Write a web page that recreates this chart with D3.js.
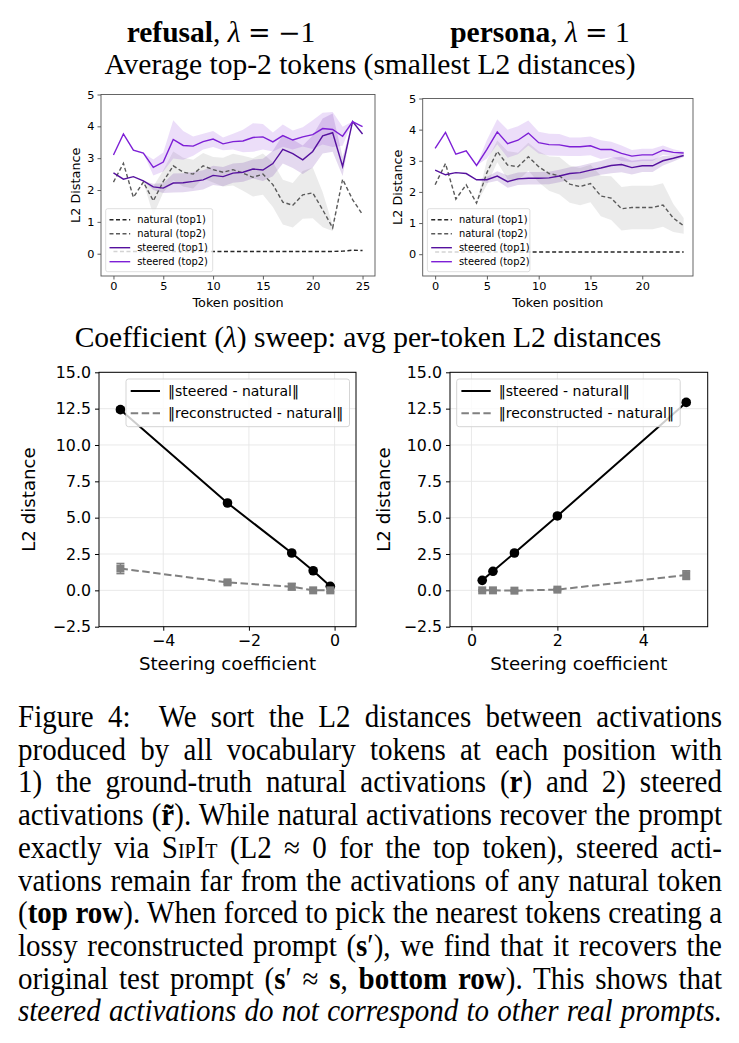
<!DOCTYPE html>
<html>
<head>
<meta charset="utf-8">
<title>Steered vs natural L2 distances</title>
<style>
  body { margin: 0; background: #fff; }
  #wrap { position: relative; width: 739px; height: 1043px; overflow: hidden; background: #fff; }
  #wrap svg { position: absolute; left: 0; top: 0; }
  svg text { font-family: "DejaVu Sans", sans-serif; fill: #000; }
  svg text.serif { font-family: "Liberation Serif", "Times New Roman", serif; }
  #caption { position: absolute; left: 18px; top: 701px; width: 704px;
    font-family: "Liberation Serif", "Times New Roman", serif; font-size: 29px; line-height: 32.7px; color: #000; }
  #caption div { text-align: justify; text-align-last: justify; white-space: nowrap; transform: scaleY(1.06); transform-origin: 0 26px; }
  .sc { font-variant: small-caps; }
</style>
</head>
<body>
<div id="wrap">
  <svg id="chart" width="739" height="1043"></svg>
  <div id="caption">
    <div>Figure 4:&nbsp; We sort the L2 distances between activations</div>
    <div>produced by all vocabulary tokens at each position with</div>
    <div>1) the ground-truth natural activations (<b>r</b>) and 2) steered</div>
    <div>activations (<b>r&#771;</b>). While natural activations recover the prompt</div>
    <div>exactly via <span class="sc">SipIt</span> (L2 &asymp; 0 for the top token), steered acti-</div>
    <div>vations remain far from the activations of any natural token</div>
    <div>(<b>top row</b>). When forced to pick the nearest tokens creating a</div>
    <div>lossy reconstructed prompt (<b>s</b>&prime;), we find that it recovers the</div>
    <div>original test prompt (<b>s</b>&prime; &asymp; <b>s</b>, <b>bottom row</b>). This shows that</div>
    <div><i>steered activations do not correspond to other real prompts.</i></div>
  </div>
</div>
<script src="https://d3js.org/d3.v7.min.js"></script>
<script>
// ---- top row: refusal, lambda = -1 ----
const refusalPos = [0, 1, 2, 3, 4, 5, 6, 7, 8, 9, 10, 11, 12, 13, 14, 15, 16, 17, 18, 19, 20, 21, 22, 23, 24, 25];
const refusalNatTop1 = [0.07, 0.07, 0.07, 0.07, 0.07, 0.07, 0.07, 0.07, 0.07, 0.07, 0.07, 0.07, 0.07, 0.07, 0.07, 0.07, 0.07, 0.07, 0.07, 0.07, 0.07, 0.07, 0.07, 0.08, 0.11, 0.1];
const refusalNatTop2 = [2.25, 2.84, 1.77, 2.25, 1.66, 2.27, 2.76, 2.56, 2.5, 2.76, 2.64, 2.56, 2.64, 2.53, 2.4, 2.5, 2.17, 1.62, 1.52, 1.85, 1.91, 1.38, 0.81, 2.34, 1.7, 1.23];
const refusalNatTop2Sd = [0, 0, 0, 0, 0.45, 0.35, 0.45, 0.45, 0.45, 0.4, 0.4, 0.45, 0.5, 0.55, 0.6, 0.65, 0.7, 0.7, 0.7, 0.75, 0.8, 0.55, 0.1, 0, 0, 0];
const refusalSteerTop1 = [2.54, 2.34, 2.42, 2.29, 2.1, 2.06, 2.22, 2.23, 2.27, 2.32, 2.46, 2.42, 2.53, 2.56, 2.66, 2.63, 2.83, 3.28, 3.14, 2.95, 3.21, 3.7, 3.8, 2.74, 4.15, 3.76];
const refusalSteerTop1Sd = [0, 0, 0, 0, 0.1, 0.15, 0.3, 0.3, 0.3, 0.3, 0.3, 0.3, 0.3, 0.3, 0.3, 0.35, 0.4, 0.45, 0.45, 0.45, 0.5, 0.55, 0.6, 0.3, 0, 0];
const refusalSteerTop2 = [3.1, 3.76, 3.25, 3.16, 2.71, 2.88, 3.59, 3.4, 3.38, 3.52, 3.6, 3.45, 3.52, 3.54, 3.65, 3.67, 3.51, 3.71, 3.57, 3.67, 3.74, 3.93, 3.9, 3.69, 4.15, 3.99];
const refusalSteerTop2Sd = [0, 0, 0, 0, 0.25, 0.3, 0.6, 0.45, 0.3, 0.25, 0.25, 0.2, 0.25, 0.35, 0.45, 0.4, 0.3, 0.35, 0.3, 0.3, 0.45, 0.5, 0.55, 0.3, 0, 0];

// ---- top row: persona, lambda = 1 ----
const personaPos = [0, 1, 2, 3, 4, 5, 6, 7, 8, 9, 10, 11, 12, 13, 14, 15, 16, 17, 18, 19, 20, 21, 22, 23, 24];
const personaNatTop1 = [0.07, 0.07, 0.07, 0.07, 0.07, 0.07, 0.07, 0.07, 0.07, 0.07, 0.07, 0.07, 0.07, 0.07, 0.07, 0.07, 0.07, 0.07, 0.07, 0.07, 0.07, 0.07, 0.07, 0.07, 0.07];
const personaNatTop2 = [2.23, 2.91, 1.77, 2.23, 1.64, 2.62, 3.3, 2.86, 2.81, 3.13, 2.81, 2.59, 2.52, 2.25, 2.17, 2.27, 1.87, 1.8, 1.46, 1.5, 1.5, 1.5, 1.58, 1.16, 0.91];
const personaNatTop2Sd = [0, 0, 0, 0, 0, 0.4, 0.35, 0.45, 0.45, 0.45, 0.5, 0.55, 0.6, 0.6, 0.6, 0.6, 0.65, 0.7, 0.7, 0.7, 0.7, 0.7, 0.7, 0.45, 0.25];
const personaSteerTop1 = [2.7, 2.55, 2.62, 2.59, 2.39, 2.39, 2.51, 2.33, 2.42, 2.44, 2.44, 2.45, 2.51, 2.59, 2.62, 2.7, 2.77, 2.85, 2.88, 2.78, 2.84, 2.84, 3.0, 3.08, 3.17];
const personaSteerTop1Sd = [0, 0, 0, 0, 0, 0.1, 0.15, 0.2, 0.2, 0.2, 0.2, 0.2, 0.2, 0.2, 0.22, 0.22, 0.22, 0.25, 0.25, 0.22, 0.2, 0.2, 0.15, 0.1, 0.05];
const personaSteerTop2 = [3.4, 3.91, 3.21, 3.32, 2.85, 3.37, 3.93, 3.55, 3.66, 3.89, 3.58, 3.52, 3.51, 3.45, 3.45, 3.48, 3.36, 3.36, 3.24, 3.15, 3.19, 3.19, 3.34, 3.27, 3.25];
const personaSteerTop2Sd = [0, 0, 0, 0, 0, 0.3, 0.4, 0.45, 0.45, 0.4, 0.35, 0.35, 0.35, 0.3, 0.3, 0.3, 0.3, 0.25, 0.25, 0.2, 0.2, 0.2, 0.15, 0.1, 0.05];

const topYTicks = [0, 1, 2, 3, 4, 5];
const topLegendLabels = ["natural (top1)", "natural (top2)", "steered (top1)", "steered (top2)"];

// ---- bottom row: coefficient sweep ----
const sweepNegCoef = [-5, -2.5, -1, -0.5, -0.1];
const sweepNegSteered = [12.43, 6.01, 2.57, 1.35, 0.28];
const sweepNegSteeredErr = [0.15, 0.1, 0.1, 0.08, 0.05];
const sweepNegRecon = [1.5, 0.55, 0.25, 0.0, 0.0];
const sweepNegReconErr = [0.35, 0.12, 0.22, 0.05, 0.1];

const sweepPosCoef = [0.25, 0.5, 1, 2, 5];
const sweepPosSteered = [0.69, 1.31, 2.57, 5.12, 12.93];
const sweepPosSteeredErr = [0.05, 0.08, 0.1, 0.12, 0.15];
const sweepPosRecon = [0.0, 0.0, -0.02, 0.05, 1.05];
const sweepPosReconErr = [0.05, 0.05, 0.05, 0.08, 0.3];

const sweepYTicks = [-2.5, 0, 2.5, 5, 7.5, 10, 12.5, 15];
const sweepLegendLabels = ["\u2016steered - natural\u2016", "\u2016reconstructed - natural\u2016"];

const cNat1 = "#262626", cNat2 = "#5a5a5a";
const cSt1 = "#55119e", cSt2 = "#7d1fd6";
const minus = s => String(s).replace("-", "\u2212");

const svg = d3.select("#chart");

// titles; "m" parts use a wider serif for the math operators
function title(x, y, parts) {
  const t = svg.append("text").attr("class", "serif").attr("x", x).attr("y", y)
    .attr("text-anchor", "middle").style("font-size", "29.5px");
  parts.forEach(p => {
    const s = t.append("tspan").text(p[0]);
    if (p[1] === "b") s.style("font-weight", "bold");
    if (p[1] === "i") s.style("font-style", "italic");
    if (p[1] === "m") s.style("font-family", "'DejaVu Serif', serif").style("font-size", "27px");
  });
}
title(221, 42, [["refusal", "b"], [",\u00a0"], ["\u03bb", "i"], ["\u00a0"], ["=", "m"], ["\u00a0"], ["\u2212", "m"], ["1"]]);
title(540, 42, [["persona", "b"], [",\u00a0"], ["\u03bb", "i"], ["\u00a0"], ["=", "m"], ["\u00a01"]]);
title(370, 74, [["Average top-2 tokens (smallest L2 distances)"]]);
title(368, 347, [["Coefficient ("], ["\u03bb", "i"], [") sweep: avg per-token L2 distances"]]);

function drawTop(o) {
  const g = svg.append("g");
  const x = d3.scaleLinear().domain(o.xDomain).range([o.left, o.right]);
  const y = d3.scaleLinear().domain([-0.7, 5]).range([o.bottom, o.top]);

  const band = (vals, sd) => d3.area()
    .x((d, i) => x(o.pos[i])).y0((d, i) => y(vals[i] - sd[i])).y1((d, i) => y(vals[i] + sd[i]))(vals);
  const line = vals => d3.line().x((d, i) => x(o.pos[i])).y(d => y(d))(vals);

  g.append("path").attr("d", band(o.nat2, o.nat2Sd)).attr("fill", "#9a9a9a").attr("fill-opacity", 0.2);
  g.append("path").attr("d", band(o.st1, o.st1Sd)).attr("fill", cSt1).attr("fill-opacity", 0.16);
  g.append("path").attr("d", band(o.st2, o.st2Sd)).attr("fill", cSt2).attr("fill-opacity", 0.15);

  const series = [
    [o.nat1, cNat1, "4,2.5"], [o.nat2, cNat2, "4,2.5"],
    [o.st1, cSt1, null], [o.st2, cSt2, null]
  ];
  series.forEach(s => {
    g.append("path").attr("d", line(s[0])).attr("fill", "none").attr("stroke", s[1])
      .attr("stroke-width", 1.4).attr("stroke-dasharray", s[2]);
  });

  const xa = g.append("g").attr("transform", `translate(0,${o.bottom})`)
    .call(d3.axisBottom(x).tickValues(o.xTicks).tickSize(3.5).tickPadding(2.5));
  const ya = g.append("g").attr("transform", `translate(${o.left},0)`)
    .call(d3.axisLeft(y).tickValues(topYTicks).tickSize(3.5).tickPadding(3).tickFormat(d3.format("d")));
  [xa, ya].forEach(a => {
    a.select(".domain").remove();
    a.selectAll("line").attr("stroke", "#333").attr("stroke-width", 0.8);
    a.selectAll("text").style("font-size", "11.3px").attr("fill", "#000");
  });
  g.append("rect").attr("x", o.left).attr("y", o.top).attr("width", o.right - o.left)
    .attr("height", o.bottom - o.top).attr("fill", "none").attr("stroke", "#555").attr("stroke-width", 0.9);

  g.append("text").attr("x", (o.left + o.right) / 2).attr("y", o.bottom + 31)
    .attr("text-anchor", "middle").style("font-size", "12.8px").text("Token position");
  g.append("text").attr("transform", `translate(${o.left - 21},${(o.top + o.bottom) / 2}) rotate(-90)`)
    .attr("text-anchor", "middle").style("font-size", "12.8px").text("L2 Distance");

  // legend
  const lx = o.left + 4.7, lh = 14, lyb = o.bottom - 4.3;
  const lyt = lyb - 4 * lh - 7;
  g.append("rect").attr("x", lx).attr("y", lyt).attr("width", o.legendW).attr("height", lyb - lyt)
    .attr("rx", 2).attr("fill", "#fff").attr("fill-opacity", 0.8).attr("stroke", "#d6d6d6").attr("stroke-width", 0.8);
  topLegendLabels.forEach((lab, i) => {
    const cy = lyt + 11 + i * lh;
    g.append("line").attr("x1", lx + 3.8).attr("x2", lx + 24.5).attr("y1", cy).attr("y2", cy)
      .attr("stroke", series[i][1]).attr("stroke-width", 1.4).attr("stroke-dasharray", series[i][2]);
    g.append("text").attr("x", lx + 31.5).attr("y", cy + 3.5).style("font-size", "9.9px").text(lab);
  });
}

drawTop({ left: 101, right: 375, top: 94.5, bottom: 276, xDomain: [-1.25, 26.25], xTicks: [0, 5, 10, 15, 20, 25],
  legendW: 107, pos: refusalPos, nat1: refusalNatTop1, nat2: refusalNatTop2, nat2Sd: refusalNatTop2Sd,
  st1: refusalSteerTop1, st1Sd: refusalSteerTop1Sd, st2: refusalSteerTop2, st2Sd: refusalSteerTop2Sd });
drawTop({ left: 422.7, right: 693, top: 98.5, bottom: 276, xDomain: [-1.2, 24.9], xTicks: [0, 5, 10, 15, 20],
  legendW: 102.5, pos: personaPos, nat1: personaNatTop1, nat2: personaNatTop2, nat2Sd: personaNatTop2Sd,
  st1: personaSteerTop1, st1Sd: personaSteerTop1Sd, st2: personaSteerTop2, st2Sd: personaSteerTop2Sd });

function drawSweep(o) {
  const g = svg.append("g");
  const x = d3.scaleLinear().domain(o.xDomain).range([o.left, o.right]);
  const y = d3.scaleLinear().domain([-2.5, 15]).range([o.bottom, o.top]);

  // grid
  o.xTicks.forEach(t => g.append("line").attr("x1", x(t)).attr("x2", x(t)).attr("y1", o.top).attr("y2", o.bottom)
    .attr("stroke", "#e6e6e6").attr("stroke-width", 0.9));
  sweepYTicks.forEach(t => g.append("line").attr("x1", o.left).attr("x2", o.right).attr("y1", y(t)).attr("y2", y(t))
    .attr("stroke", "#e6e6e6").attr("stroke-width", 0.9));

  const line = vals => d3.line().x((d, i) => x(o.coef[i])).y(d => y(d))(vals);
  const errs = (vals, err, col) => vals.forEach((v, i) => {
    const cx = x(o.coef[i]);
    g.append("line").attr("x1", cx).attr("x2", cx).attr("y1", y(v - err[i])).attr("y2", y(v + err[i]))
      .attr("stroke", col).attr("stroke-width", 1.5);
    [v - err[i], v + err[i]].forEach(e => g.append("line").attr("x1", cx - 4).attr("x2", cx + 4)
      .attr("y1", y(e)).attr("y2", y(e)).attr("stroke", col).attr("stroke-width", 1.5));
  });

  g.append("path").attr("d", line(o.steered)).attr("fill", "none").attr("stroke", "#000").attr("stroke-width", 2);
  errs(o.steered, o.steeredErr, "#000");
  o.steered.forEach((v, i) => g.append("circle").attr("cx", x(o.coef[i])).attr("cy", y(v)).attr("r", 4.8).attr("fill", "#000"));

  g.append("path").attr("d", line(o.recon)).attr("fill", "none").attr("stroke", "#808080")
    .attr("stroke-width", 2).attr("stroke-dasharray", "7.5,3.5");
  errs(o.recon, o.reconErr, "#808080");
  o.recon.forEach((v, i) => g.append("rect").attr("x", x(o.coef[i]) - 4).attr("y", y(v) - 4)
    .attr("width", 8).attr("height", 8).attr("fill", "#808080"));

  const xa = g.append("g").attr("transform", `translate(0,${o.bottom})`)
    .call(d3.axisBottom(x).tickValues(o.xTicks).tickSize(4).tickPadding(4).tickFormat(d => minus(d)));
  const ya = g.append("g").attr("transform", `translate(${o.left},0)`)
    .call(d3.axisLeft(y).tickValues(sweepYTicks).tickSize(4).tickPadding(4).tickFormat(d => minus(d.toFixed(1))));
  [xa, ya].forEach(a => {
    a.select(".domain").remove();
    a.selectAll("line").attr("stroke", "#000").attr("stroke-width", 1);
    a.selectAll("text").style("font-size", "15.8px").attr("fill", "#000");
  });
  g.append("rect").attr("x", o.left).attr("y", o.top).attr("width", o.right - o.left)
    .attr("height", o.bottom - o.top).attr("fill", "none").attr("stroke", "#000").attr("stroke-width", 1);

  g.append("text").attr("x", (o.left + o.right) / 2).attr("y", o.bottom + 43)
    .attr("text-anchor", "middle").style("font-size", "18.2px").text("Steering coefficient");
  g.append("text").attr("transform", `translate(${o.labelX},${(o.top + o.bottom) / 2}) rotate(-90)`)
    .attr("text-anchor", "middle").style("font-size", "18.2px").text("L2 distance");

  // legend
  const lx = o.legendX, ly = o.top + 6.7;
  g.append("rect").attr("x", lx).attr("y", ly).attr("width", 223.5).attr("height", 47.7)
    .attr("rx", 2.5).attr("fill", "#fff").attr("fill-opacity", 0.8).attr("stroke", "#d0d0d0").attr("stroke-width", 0.9);
  sweepLegendLabels.forEach((lab, i) => {
    const cy = ly + 12 + i * 22.3;
    g.append("line").attr("x1", lx + 4.7).attr("x2", lx + 34).attr("y1", cy).attr("y2", cy)
      .attr("stroke", i ? "#808080" : "#000").attr("stroke-width", 2).attr("stroke-dasharray", i ? "7.5,3.5" : null);
    g.append("text").attr("x", lx + 42).attr("y", cy + 5).style("font-size", "14px").text(lab);
  });
}

drawSweep({ left: 99, right: 356, top: 372.3, bottom: 626.7, xDomain: [-5.5, 0.5], xTicks: [-4, -2, 0],
  coef: sweepNegCoef, steered: sweepNegSteered, steeredErr: sweepNegSteeredErr,
  recon: sweepNegRecon, reconErr: sweepNegReconErr, legendX: 126, labelX: 35 });
drawSweep({ left: 450, right: 707.7, top: 372.3, bottom: 626.7, xDomain: [-0.5, 5.5], xTicks: [0, 2, 4],
  coef: sweepPosCoef, steered: sweepPosSteered, steeredErr: sweepPosSteeredErr,
  recon: sweepPosRecon, reconErr: sweepPosReconErr, legendX: 456.7, labelX: 390 });
</script>
</body>
</html>
